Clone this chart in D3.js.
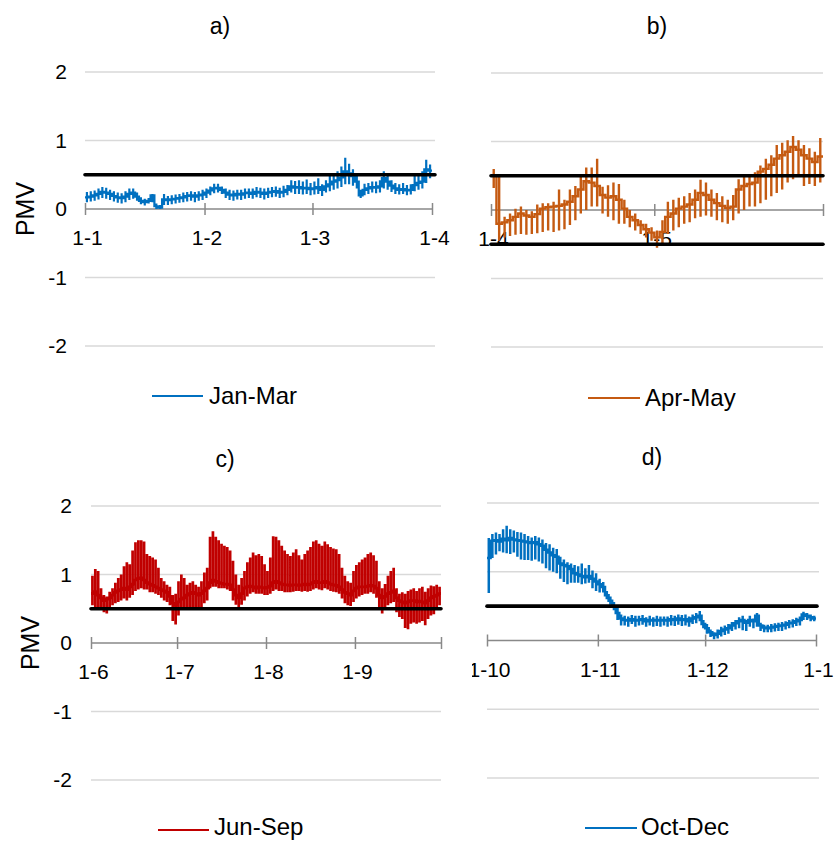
<!DOCTYPE html>
<html>
<head>
<meta charset="utf-8">
<script src="https://cdn.jsdelivr.net/npm/d3@7"></script>
<style>
  html, body { margin: 0; padding: 0; background: #fff; }
  svg { display: block; font-family: 'Liberation Sans', Arial, sans-serif; }
</style>
</head>
<body>
<svg id="chart" width="835" height="841"></svg>
<script>
// Daily PMV readings: resting level, daily high and daily low for each period.
const seriesNames = ["Jan-Mar", "Apr-May", "Jun-Sep", "Oct-Dec"];
const panelTitles = ["a)", "b)", "c)", "d)"];
const pmvTicks = [2, 1, 0, -1, -2];
const pmvTickLabels = ["2", "1", "0", "-1", "-2"];

const janMarTicks = ["1-1", "1-2", "1-3", "1-4"];
const janMarMid = [0.17,0.18,0.20,0.22,0.25,0.24,0.22,0.19,0.17,0.16,
  0.18,0.22,0.24,0.18,0.12,0.10,0.12,0.20,0.04,0.02,
  0.14,0.13,0.14,0.15,0.16,0.17,0.19,0.20,0.18,0.20,
  0.21,0.24,0.27,0.30,0.31,0.28,0.24,0.21,0.20,0.22,
  0.21,0.23,0.24,0.22,0.25,0.24,0.22,0.24,0.25,0.26,
  0.24,0.25,0.28,0.33,0.31,0.32,0.30,0.31,0.29,0.30,
  0.32,0.28,0.33,0.36,0.40,0.42,0.46,0.55,0.52,0.48,
  0.40,0.20,0.28,0.30,0.32,0.31,0.33,0.45,0.40,0.34,
  0.30,0.28,0.29,0.27,0.28,0.35,0.38,0.40,0.58,0.56];
const janMarHigh = [0.25,0.26,0.27,0.30,0.32,0.31,0.28,0.26,0.24,0.23,
  0.26,0.30,0.30,0.24,0.17,0.15,0.16,0.22,0.08,0.06,
  0.22,0.19,0.20,0.21,0.22,0.24,0.25,0.26,0.25,0.26,
  0.28,0.30,0.33,0.37,0.37,0.33,0.30,0.28,0.27,0.28,
  0.28,0.30,0.30,0.30,0.32,0.31,0.30,0.31,0.32,0.33,
  0.31,0.34,0.35,0.42,0.41,0.42,0.40,0.43,0.38,0.40,
  0.45,0.36,0.42,0.48,0.52,0.55,0.62,0.75,0.66,0.58,
  0.48,0.28,0.37,0.38,0.40,0.40,0.42,0.55,0.50,0.42,
  0.38,0.36,0.38,0.35,0.36,0.50,0.52,0.55,0.72,0.65];
const janMarLow = [0.10,0.11,0.12,0.14,0.16,0.15,0.13,0.11,0.09,0.08,
  0.10,0.13,0.15,0.12,0.07,0.05,0.08,0.10,0.00,0.00,
  0.06,0.06,0.07,0.08,0.09,0.10,0.11,0.12,0.10,0.12,
  0.13,0.16,0.20,0.23,0.24,0.22,0.16,0.13,0.12,0.14,
  0.13,0.15,0.16,0.15,0.17,0.16,0.14,0.16,0.17,0.18,
  0.16,0.17,0.20,0.24,0.22,0.22,0.21,0.22,0.20,0.21,
  0.22,0.19,0.24,0.26,0.28,0.30,0.32,0.36,0.36,0.34,
  0.30,0.16,0.20,0.22,0.24,0.23,0.24,0.30,0.28,0.25,
  0.22,0.21,0.22,0.20,0.21,0.26,0.28,0.30,0.38,0.45];

const aprMayTicks = ["1-4", "1-5", ""];
const aprMayMid = [0.50,-0.20,-0.18,-0.15,-0.10,-0.05,-0.08,-0.10,-0.06,0.02,
  0.04,0.05,0.06,0.08,0.12,0.20,0.30,0.42,0.40,0.35,
  0.22,0.18,0.20,0.15,0.02,-0.10,-0.15,-0.22,-0.28,-0.33,
  -0.40,-0.32,-0.10,-0.05,0.02,0.05,0.08,0.15,0.25,0.22,
  0.15,0.10,0.06,0.03,0.05,0.30,0.35,0.38,0.40,0.56,
  0.60,0.66,0.75,0.80,0.85,0.92,0.88,0.80,0.75,0.70,
  0.78];
const aprMayHigh = [0.60,0.52,-0.10,-0.05,0.02,0.05,0.00,-0.02,0.08,0.10,
  0.10,0.12,0.30,0.15,0.30,0.35,0.50,0.62,0.62,0.75,
  0.34,0.36,0.40,0.38,0.15,0.00,-0.05,-0.15,-0.20,-0.25,
  -0.30,-0.15,0.12,0.15,0.18,0.20,0.25,0.30,0.44,0.40,
  0.30,0.25,0.20,0.15,0.22,0.45,0.48,0.52,0.55,0.65,
  0.75,0.80,0.95,0.98,1.02,1.08,1.02,0.95,0.90,0.85,
  1.05];
const aprMayLow = [0.32,-0.45,-0.40,-0.38,-0.36,-0.35,-0.36,-0.35,-0.34,-0.32,
  -0.30,-0.32,-0.30,-0.28,-0.22,-0.15,-0.05,0.00,0.05,0.05,
  -0.05,-0.10,-0.15,-0.20,-0.20,-0.25,-0.30,-0.35,-0.40,-0.45,
  -0.55,-0.50,-0.35,-0.30,-0.25,-0.20,-0.18,-0.12,-0.10,-0.08,
  -0.10,-0.15,-0.18,-0.20,-0.15,-0.05,0.00,0.05,0.05,0.10,
  0.15,0.20,0.25,0.30,0.40,0.45,0.50,0.35,0.38,0.35,
  0.40];

const junSepTicks = ["1-6", "1-7", "1-8", "1-9", ""];
const junSepMid = [.72,.75,.70,.66,.62,.64,.66,.70,.74,.76,
  .78,.80,.78,.82,.86,.92,.94,.95,.92,.88,
  .86,.84,.82,.80,.78,.76,.74,.68,.58,.55,
  .60,.64,.66,.70,.72,.74,.72,.70,.72,.76,
  .80,.88,.92,.90,.88,.87,.86,.86,.85,.78,
  .70,.66,.72,.80,.82,.83,.82,.80,.82,.81,
  .80,.81,.83,.88,.90,.88,.86,.85,.85,.84,
  .85,.85,.84,.85,.86,.85,.86,.88,.90,.88,
  .88,.90,.88,.86,.85,.84,.82,.78,.74,.72,
  .70,.76,.80,.82,.82,.82,.83,.84,.83,.80,
  .70,.66,.68,.72,.74,.76,.66,.62,.60,.58,
  .60,.62,.62,.60,.61,.60,.58,.62,.66,.68,
  .70,.72];
const junSepHigh = [.98,1.08,1.05,.80,.70,.68,.75,.80,.88,.95,
  1.00,1.12,1.18,1.15,1.35,1.47,1.50,1.50,1.48,1.30,
  1.27,1.25,1.22,1.10,.95,.90,.85,.82,.70,.72,
  .90,1.00,.95,.85,.88,.90,.85,.82,.90,1.03,
  1.10,1.55,1.63,1.55,1.50,1.45,1.42,1.40,1.35,1.20,
  1.00,.85,.95,1.05,1.18,1.25,1.32,1.28,1.30,1.27,
  1.15,1.05,1.25,1.56,1.55,1.50,1.42,1.35,1.30,1.27,
  1.32,1.37,1.28,1.22,1.30,1.35,1.40,1.48,1.50,1.45,
  1.42,1.48,1.44,1.40,1.38,1.37,1.30,1.10,.98,.90,
  .88,1.05,1.14,1.18,1.22,1.25,1.30,1.32,1.28,1.20,
  .90,.80,.86,.98,1.05,1.10,.80,.72,.74,.72,
  .76,.78,.80,.76,.80,.82,.75,.80,.84,.83,
  .85,.82];
const junSepLow = [.55,.52,.50,.48,.45,.43,.48,.55,.58,.60,
  .62,.65,.62,.66,.70,.76,.78,.80,.78,.78,
  .74,.74,.72,.70,.66,.62,.60,.55,.32,.27,
  .40,.48,.50,.52,.50,.52,.50,.48,.50,.58,
  .62,.80,.82,.82,.80,.80,.80,.78,.76,.62,
  .56,.50,.56,.62,.68,.72,.74,.72,.72,.72,
  .70,.70,.72,.76,.78,.76,.76,.74,.74,.74,
  .75,.76,.76,.75,.76,.75,.76,.78,.80,.78,
  .77,.80,.78,.76,.75,.74,.72,.65,.58,.55,
  .54,.60,.65,.68,.70,.72,.72,.74,.72,.66,
  .50,.43,.48,.55,.58,.60,.45,.38,.35,.22,
  .20,.28,.30,.28,.30,.32,.26,.35,.40,.42,
  .48,.55];

const octDecTicks = ["1-10", "1-11", "1-12", "1-1"];
const octDecMid = [1.20,1.45,1.46,1.44,1.48,1.46,1.49,1.47,1.46,1.45,
  1.44,1.43,1.42,1.43,1.40,1.38,1.32,1.28,1.24,1.22,
  1.12,1.10,1.08,1.04,0.98,0.96,0.94,0.92,0.94,0.90,
  0.86,0.82,0.78,0.66,0.58,0.50,0.40,0.32,0.30,0.29,
  0.31,0.29,0.30,0.31,0.28,0.30,0.29,0.30,0.29,0.30,
  0.29,0.31,0.30,0.32,0.30,0.31,0.28,0.32,0.34,0.36,
  0.24,0.18,0.12,0.08,0.10,0.14,0.16,0.18,0.22,0.25,
  0.28,0.30,0.26,0.30,0.28,0.36,0.22,0.19,0.18,0.19,
  0.20,0.21,0.22,0.23,0.25,0.26,0.28,0.30,0.38,0.36,
  0.34,0.32];
const octDecHigh = [1.49,1.55,1.57,1.55,1.62,1.67,1.62,1.60,1.58,1.57,
  1.55,1.52,1.50,1.52,1.50,1.47,1.42,1.40,1.35,1.33,
  1.22,1.18,1.14,1.12,1.10,1.08,1.12,1.05,1.10,1.02,
  0.98,0.90,0.85,0.72,0.64,0.56,0.48,0.38,0.36,0.35,
  0.37,0.36,0.36,0.37,0.34,0.36,0.34,0.36,0.35,0.35,
  0.35,0.37,0.36,0.38,0.37,0.38,0.35,0.38,0.40,0.43,
  0.30,0.24,0.16,0.12,0.16,0.20,0.22,0.24,0.27,0.30,
  0.34,0.36,0.30,0.36,0.32,0.40,0.26,0.23,0.23,0.24,
  0.25,0.26,0.27,0.28,0.30,0.31,0.33,0.35,0.42,0.40,
  0.38,0.36];
const octDecLow = [0.69,1.20,1.25,1.30,1.28,1.27,1.26,1.28,1.22,1.18,
  1.17,1.17,1.16,1.18,1.15,1.12,1.05,1.02,1.00,0.98,
  0.90,0.85,0.82,0.84,0.84,0.84,0.82,0.83,0.84,0.76,
  0.72,0.70,0.70,0.60,0.52,0.44,0.30,0.22,0.22,0.20,
  0.24,0.20,0.22,0.23,0.20,0.22,0.20,0.21,0.20,0.22,
  0.20,0.22,0.21,0.23,0.21,0.22,0.20,0.24,0.25,0.28,
  0.18,0.10,0.05,0.02,0.03,0.06,0.08,0.10,0.14,0.16,
  0.18,0.15,0.14,0.20,0.18,0.20,0.14,0.12,0.12,0.12,
  0.13,0.14,0.14,0.16,0.18,0.19,0.21,0.22,0.30,0.30,
  0.28,0.28];

// Comfort limits drawn as heavy black lines
const comfortUpper = 0.5;
const comfortLower = -0.5;

const FONT = "'Liberation Sans', Arial, sans-serif";
const svg = d3.select("#chart");

const panels = [
  { title: panelTitles[0], name: seriesNames[0], color: "#0070C0", width: 2.2,
    mid: janMarMid, high: janMarHigh, low: janMarLow, ticks: janMarTicks,
    start: Date.UTC(2019, 0, 1), end: Date.UTC(2019, 3, 1),
    limits: [comfortUpper],
    xr: [85, 432], yr: [346, 72], gridEnd: 435, limitEnd: 435,
    titleX: 220, titleY: 34,
    yAxis: { x: 67, pmvX: 25 },
    legend: { x1: 152, x2: 203, y: 396, tx: 209, ty: 404 } },
  { title: panelTitles[1], name: seriesNames[1], color: "#C55A11", width: 2.4,
    mid: aprMayMid, high: aprMayHigh, low: aprMayLow, ticks: aprMayTicks,
    start: Date.UTC(2019, 3, 1), end: Date.UTC(2019, 5, 1),
    limits: [comfortUpper, comfortLower],
    xr: [491, 823], yr: [347, 73], gridEnd: 823, limitEnd: 823,
    titleX: 657, titleY: 34,
    yAxis: null,
    legend: { x1: 588, x2: 640, y: 398, tx: 645, ty: 406 } },
  { title: panelTitles[2], name: seriesNames[2], color: "#C00000", width: 2.7,
    mid: junSepMid, high: junSepHigh, low: junSepLow, ticks: junSepTicks,
    start: Date.UTC(2019, 5, 1), end: Date.UTC(2019, 9, 1),
    limits: [comfortUpper],
    xr: [91, 441], yr: [780, 506], gridEnd: 441, limitEnd: 441,
    titleX: 225, titleY: 467,
    yAxis: { x: 72, pmvX: 30 },
    legend: { x1: 158, x2: 209, y: 830, tx: 214, ty: 835 } },
  { title: panelTitles[3], name: seriesNames[3], color: "#0070C0", width: 2.5,
    mid: octDecMid, high: octDecHigh, low: octDecLow, ticks: octDecTicks,
    start: Date.UTC(2019, 9, 1), end: Date.UTC(2020, 0, 1),
    limits: [comfortUpper],
    xr: [487, 816], yr: [778, 503], gridEnd: 819, limitEnd: 817,
    titleX: 652, titleY: 465,
    yAxis: null, clipX: 472,
    legend: { x1: 585, x2: 637, y: 828, tx: 641, ty: 835 } }
];

const defs = svg.append("defs");

panels.forEach((p, k) => {
  const g = svg.append("g");
  if (p.clipX != null) {
    defs.append("clipPath").attr("id", "clip" + k)
      .append("rect").attr("x", p.clipX).attr("y", 0)
      .attr("width", 835 - p.clipX).attr("height", 841);
    g.attr("clip-path", `url(#clip${k})`);
  }

  const x = d3.scaleUtc().domain([new Date(p.start), new Date(p.end)]).range(p.xr);
  const y = d3.scaleLinear().domain([-2, 2]).range(p.yr);

  // horizontal gridlines
  g.append("g").selectAll("line")
    .data(pmvTicks.filter(v => v !== 0))
    .join("line")
    .attr("x1", p.xr[0]).attr("x2", p.gridEnd)
    .attr("y1", d => y(d)).attr("y2", d => y(d))
    .attr("stroke", "#d9d9d9").attr("stroke-width", 1.5);

  // value axis labels
  if (p.yAxis) {
    g.append("g").selectAll("text")
      .data(pmvTicks)
      .join("text")
      .attr("x", p.yAxis.x).attr("y", d => y(d)).attr("dy", "0.35em")
      .attr("text-anchor", "end")
      .attr("font-size", 21).attr("fill", "#000")
      .text((d, i) => pmvTickLabels[i]);
    g.append("text")
      .attr("transform", `translate(${p.yAxis.pmvX},${y(0)}) rotate(-90)`)
      .attr("text-anchor", "middle").attr("dy", "0.35em")
      .attr("font-size", 25).attr("fill", "#000")
      .text("PMV");
  }

  // date axis with month ticks crossing the zero line
  const monthStarts = d3.utcMonth.range(new Date(p.start), new Date(p.end + 1));
  const axis = d3.axisBottom(x)
    .tickValues(monthStarts)
    .tickFormat((d, i) => p.ticks[i] || "")
    .tickSizeOuter(0).tickSizeInner(6).tickPadding(0);
  const ag = g.append("g").attr("transform", `translate(0,${y(0)})`).call(axis);
  ag.attr("font-family", FONT).attr("font-size", 21);
  ag.select(".domain").attr("stroke", "#898989").attr("stroke-width", 1.5)
    .attr("d", `M${p.xr[0]},0H${p.xr[1]}`);
  ag.selectAll(".tick line").attr("y1", -6).attr("y2", 6)
    .attr("stroke", "#898989").attr("stroke-width", 1.5);
  ag.selectAll(".tick text").attr("y", 36).attr("dy", null).attr("dx", 2).attr("fill", "#000");

  // daily trace: resting level, then the day's high and low swing
  const pts = [];
  p.mid.forEach((m, i) => {
    const t0 = d3.utcDay.offset(new Date(p.start), i);
    const th = d3.utcHour.offset(t0, 12);
    pts.push([t0, m], [th, p.high[i]], [th, p.low[i]], [th, m]);
  });
  pts.push([new Date(p.end), p.mid[p.mid.length - 1]]);

  const line = d3.line()
    .x(d => x(d[0])).y(d => y(d[1]))
    .curve(d3.curveStepAfter);
  g.append("path").datum(pts)
    .attr("d", line)
    .attr("fill", "none").attr("stroke", p.color)
    .attr("stroke-width", p.width).attr("stroke-linejoin", "miter");

  // comfort limits
  g.append("g").selectAll("line")
    .data(p.limits)
    .join("line")
    .attr("x1", p.xr[0]).attr("x2", p.limitEnd)
    .attr("y1", d => y(d)).attr("y2", d => y(d))
    .attr("stroke", "#000").attr("stroke-width", 3.6)
    .attr("stroke-linecap", "round");

  // panel title
  svg.append("text")
    .attr("x", p.titleX).attr("y", p.titleY)
    .attr("text-anchor", "middle").attr("font-size", 23).attr("fill", "#000")
    .text(p.title);

  // legend
  const lg = svg.append("g");
  lg.append("line")
    .attr("x1", p.legend.x1).attr("x2", p.legend.x2)
    .attr("y1", p.legend.y).attr("y2", p.legend.y)
    .attr("stroke", p.color).attr("stroke-width", 2);
  lg.append("text")
    .attr("x", p.legend.tx).attr("y", p.legend.ty)
    .attr("font-size", 24).attr("fill", "#000")
    .text(p.name);
});
</script>
</body>
</html>
